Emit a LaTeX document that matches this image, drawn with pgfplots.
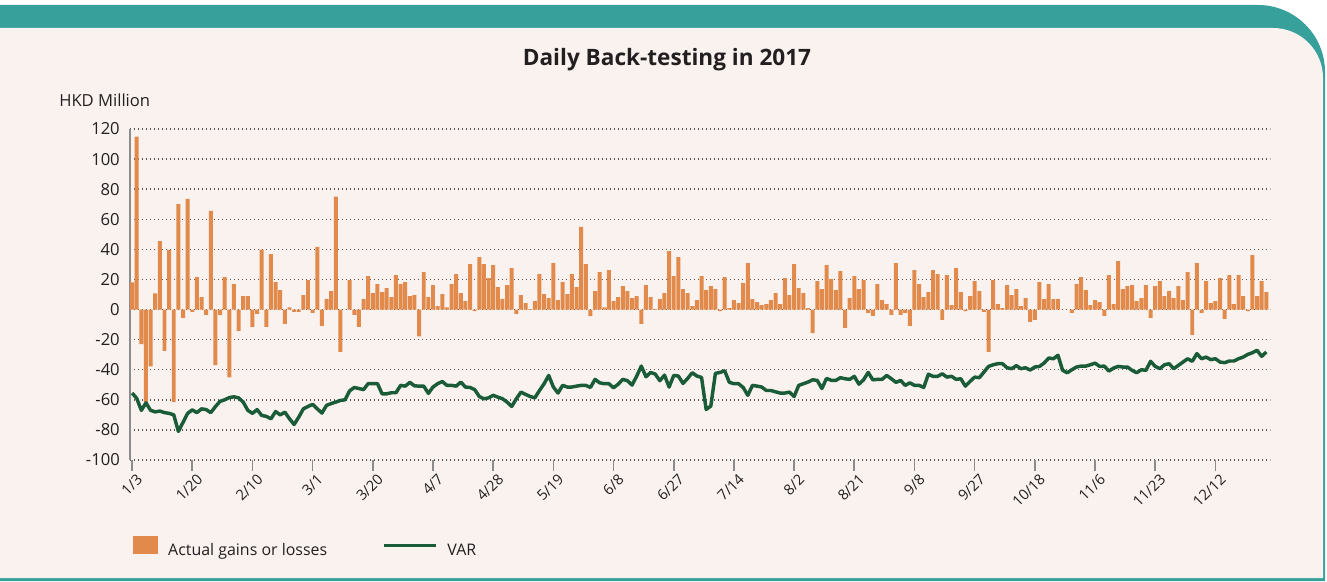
\documentclass[border=0pt]{standalone}
\usepackage{fontspec}
\setmainfont{Open Sans}
\usepackage{pgfplots}
\pgfplotsset{compat=1.18}
\usepackage{pgfplotstable}
\definecolor{bgpink}{RGB}{249,242,239}
\definecolor{tealc}{RGB}{55,160,155}
\definecolor{barorange}{RGB}{226,138,76}
\definecolor{vargreen}{RGB}{26,92,56}
\definecolor{gridgray}{RGB}{85,85,85}
\definecolor{axgray}{RGB}{140,140,140}
\definecolor{txt}{RGB}{35,31,32}

\pgfplotstableread[row sep=\\]{
i g v\\
0 18 -55.5\\ 1 115 -59\\ 2 -23 -67\\ 3 -61.5 -62\\ 4 -37.7 -67\\ 5 10.7 -68\\
6 45.5 -67.5\\ 7 -27.5 -68.5\\ 8 39.6 -69\\ 9 -61.5 -70\\ 10 70 -81\\ 11 -5.6 -75\\
12 73.6 -69\\ 13 -1.5 -66.7\\ 14 21.5 -68.5\\ 15 8.2 -66\\ 16 -3.6 -66.5\\ 17 65.5 -68.5\\
18 -36.9 -64.5\\ 19 -3.6 -61\\ 20 21.5 -60\\ 21 -45 -58.5\\ 22 16.9 -58\\ 23 -14.2 -58.7\\
24 8.9 -61.5\\ 25 8.9 -67\\ 26 -11.5 -69\\ 27 -2.9 -66.5\\ 28 39.8 -70.4\\ 29 -11.5 -71\\
30 36.9 -72.6\\ 31 18.2 -67.8\\ 32 12.9 -70\\ 33 -9.6 -68.2\\ 34 1.5 -72.6\\ 35 -1.5 -76.4\\
36 -1.5 -71.5\\ 37 9.6 -66\\ 38 19.6 -64.4\\ 39 -2.2 -63\\ 40 41.6 -66\\ 41 -10.9 -68.8\\
42 6.9 -63.7\\ 43 12.2 -62.5\\ 44 75 -61.5\\ 45 -28.2 -60.4\\ 46 0 -60\\ 47 19.6 -54\\
48 -3.6 -51.8\\ 49 -11.5 -52.5\\ 50 6.9 -53.2\\ 51 22.2 -49.2\\ 52 10.9 -49.2\\ 53 16.9 -49.2\\
54 11.6 -56\\ 55 14.2 -56\\ 56 8.2 -55.3\\ 57 22.9 -55.3\\ 58 16.9 -50.4\\ 59 18.2 -50.9\\
60 8.9 -48.4\\ 61 9.6 -50.7\\ 62 -17.8 -50.9\\ 63 24.9 -50.9\\ 64 8.2 -55.7\\ 65 16.2 -51.5\\
66 2.2 -49.3\\ 67 10.2 -47.8\\ 68 1.5 -50.4\\ 69 16.9 -50.4\\ 70 23.6 -50.9\\ 71 10.9 -48.2\\
72 5.6 -51.5\\ 73 30.2 -51.8\\ 74 -1 -53.2\\ 75 34.9 -57.8\\ 76 30.2 -59.3\\ 77 20.9 -58.7\\
78 29.6 -57\\ 79 14.9 -58.2\\ 80 6.9 -59.3\\ 81 16.2 -61.5\\ 82 27.6 -64.4\\ 83 -2.9 -59.3\\
84 9.6 -54.9\\ 85 4.2 -56.4\\ 86 0.3 -57.8\\ 87 5.6 -58.7\\ 88 23.6 -53.8\\ 89 10.2 -49.3\\
90 7.6 -43.8\\ 91 30.9 -51.5\\ 92 6.2 -55.5\\ 93 18.2 -50.4\\ 94 10.2 -51.5\\ 95 23.6 -51.5\\
96 14.9 -50.9\\ 97 54.9 -50.4\\ 98 30.2 -50.4\\ 99 -4.4 -51.8\\ 100 12.2 -46.4\\ 101 24.9 -48.7\\
102 1.5 -49.3\\ 103 26.2 -49.3\\ 104 5.6 -52\\ 105 8.2 -49.6\\ 106 15.6 -46.4\\ 107 12.2 -47.3\\
108 7.6 -50.2\\ 109 8.9 -44.2\\ 110 -9.6 -37.6\\ 111 16.2 -44.7\\ 112 8.2 -41.8\\ 113 0.3 -42.9\\
114 6.9 -47.3\\ 115 10.9 -43.6\\ 116 38.9 -51.5\\ 117 22.2 -43.8\\ 118 34.9 -44.2\\ 119 13.6 -49.1\\
120 10.9 -45.8\\ 121 2.2 -42\\ 122 6.2 -44.2\\ 123 22.2 -45.1\\ 124 12.9 -66.4\\ 125 15.6 -64.2\\
126 13.6 -42.4\\ 127 -1 -41.8\\ 128 21.5 -40.7\\ 129 0.9 -48.3\\ 130 6.2 -49.3\\ 131 4.2 -49.3\\
132 17.6 -51.8\\ 133 30.9 -57\\ 134 6.9 -50.4\\ 135 4.9 -50.9\\ 136 2.9 -51.5\\ 137 3.6 -53.8\\
138 6.2 -53.8\\ 139 10.9 -54.7\\ 140 3.6 -55.5\\ 141 20.9 -55.5\\ 142 9.6 -54.9\\ 143 30.2 -57.8\\
144 14.2 -50.4\\ 145 10.9 -49.3\\ 146 0.9 -48.2\\ 147 -15.6 -46.7\\ 148 18.9 -47.1\\ 149 13.6 -52.5\\
150 29.6 -45.8\\ 151 20.2 -47\\ 152 12.9 -47.1\\ 153 25.6 -45.3\\ 154 -12.2 -46\\ 155 7.6 -46.4\\
156 22.2 -44.4\\ 157 13.6 -49.6\\ 158 19.6 -46.7\\ 159 -2.2 -41.8\\ 160 -4.2 -46.7\\ 161 16.9 -46.4\\
162 6.2 -46.4\\ 163 3.6 -43.8\\ 164 -3.6 -46\\ 165 30.9 -48.4\\ 166 -3.6 -47.1\\ 167 -2.2 -50.4\\
168 -10.9 -48.7\\ 169 26.2 -50.4\\ 170 16.9 -50.4\\ 171 8.2 -51.8\\ 172 11.6 -43\\ 173 26.2 -44.4\\
174 23.6 -44.4\\ 175 -6.9 -42.7\\ 176 22.9 -44.9\\ 177 2.9 -44.4\\ 178 27.6 -46.4\\ 179 11.6 -46\\
180 -1 -50.9\\ 181 8.9 -47.8\\ 182 18.9 -44.9\\ 183 12.2 -45.3\\ 184 -1.5 -41.6\\ 185 -28.2 -37.8\\
186 19.6 -36.7\\ 187 3.6 -36\\ 188 0.9 -36\\ 189 16.2 -38.7\\ 190 9.6 -39.3\\ 191 13.6 -37.3\\
192 2.2 -39.3\\ 193 7.6 -38.7\\ 194 -8.2 -40.2\\ 195 -6.9 -38.2\\ 196 18.2 -37.8\\ 197 6.9 -35.6\\
198 16.9 -32.2\\ 199 6.9 -32.7\\ 200 6.9 -30.4\\ 201 0 -40.4\\ 202 0 -42\\ 203 -2.2 -40\\
204 16.9 -38.2\\ 205 21.5 -37.6\\ 206 12.9 -37.6\\ 207 2.9 -36.7\\ 208 6.2 -35.6\\ 209 4.9 -37.8\\
210 -4.2 -37.6\\ 211 22.9 -40.9\\ 212 3.6 -38.9\\ 213 32.2 -37.8\\ 214 13.6 -38.2\\ 215 15.6 -38.2\\
216 16.2 -40.4\\ 217 5.6 -42\\ 218 7.6 -40\\ 219 16.2 -40.4\\ 220 -5.6 -34.4\\ 221 15.6 -37.8\\
222 18.9 -39.3\\ 223 8.9 -36.7\\ 224 12.2 -36\\ 225 7.6 -39.3\\ 226 15.6 -37.1\\ 227 6.2 -34.9\\
228 24.9 -32.7\\ 229 -16.9 -34.4\\ 230 30.9 -29.3\\ 231 -2.2 -32.7\\ 232 18.9 -31.6\\ 233 4.2 -33.3\\
234 5.6 -32.7\\ 235 20.9 -34.9\\ 236 -6.2 -35.3\\ 237 22.9 -34.2\\ 238 3.6 -34.2\\ 239 22.9 -32.7\\
240 8.9 -31.6\\ 241 -1 -29.8\\ 242 36.2 -28.7\\ 243 8.9 -27.1\\ 244 18.9 -31.1\\ 245 11.6 -28.2\\
}\data

\begin{document}
\begin{tikzpicture}[x=0.75bp,y=0.75bp]
\path[use as bounding box] (0,0) rectangle (1327,581);
\fill[white] (0,0) rectangle (1327,581);
\fill[tealc] (0,0) -- (0,576) -- (1258,576) arc[start angle=90,end angle=0,radius=67] -- (1325,0) -- cycle;
\fill[bgpink] (0,3) -- (0,553) -- (1273,553) arc[start angle=90,end angle=0,radius=50] -- (1323,3) -- cycle;
\node[font=\bfseries\fontsize{17}{20}\selectfont, text=txt] at (667,521) {Daily Back-testing in 2017};
\node[anchor=west, inner sep=0pt, font=\fontsize{12.5}{15}\selectfont, text=txt] at (59,481) {HKD Million};
\begin{axis}[
  at={(97.5bp,90.75bp)}, anchor=south west,
  scale only axis, width=855bp, height=248.25bp,
  xmin=-0.45, xmax=245.8, ymin=-100, ymax=120,
  axis x line*=bottom, axis y line*=left,
  x axis line style={draw=none},
  y axis line style={draw=axgray, line width=1.5bp},
  ytick={-100,-80,...,120},
  xtick={0,13,...,234},
  xticklabels={1/3,1/20,2/10,3/1,3/20,4/7,4/28,5/19,6/8,6/27,7/14,8/2,8/21,9/8,9/27,10/18,11/6,11/23,12/12},
  tick align=outside, major tick length=8bp,
  ytick style={draw=none},
  xtick style={draw=axgray, line width=1.2bp},
  ymajorgrids,
  major grid style={draw=gridgray, line width=1.1bp, dash pattern=on 1.1bp off 1.9bp},
  /pgf/number format/assume math mode=true,
  yticklabel style={font=\fontsize{12.5}{15}\selectfont, text=txt, inner sep=0pt, xshift=0.5bp},
  xticklabel style={font=\fontsize{11}{13}\selectfont, text=txt, rotate=45, anchor=north east, inner sep=1bp, xshift=2bp, yshift=-2bp},
  legend columns=2,
  legend style={at={(0.0026,-0.2628)}, anchor=west, draw=none, fill=none, inner sep=0pt,
    font=\fontsize{12}{14}\selectfont, text=txt,
    nodes={inner sep=0pt},
    /tikz/every odd column/.append style={column sep=7.5bp},
    /tikz/every even column/.append style={column sep=41.5bp}},
  legend cell align=left,
]
\addplot[ybar, bar width=0.86, bar shift=0pt, fill=barorange, draw=none,
  legend image code/.code={\fill[barorange] (0bp,-2.5bp) rectangle (18.75bp,11bp);}]
  table[x=i,y=g]{\data};
\addlegendentry{Actual gains or losses}
\addplot[vargreen, line width=2.6bp, line join=round, mark=none,
  legend image code/.code={\draw[vargreen, line width=2.2bp] (0bp,4.25bp) -- (39bp,4.25bp);}]
  table[x=i,y=v]{\data};
\addlegendentry{VAR}
\end{axis}
\end{tikzpicture}
\end{document}
